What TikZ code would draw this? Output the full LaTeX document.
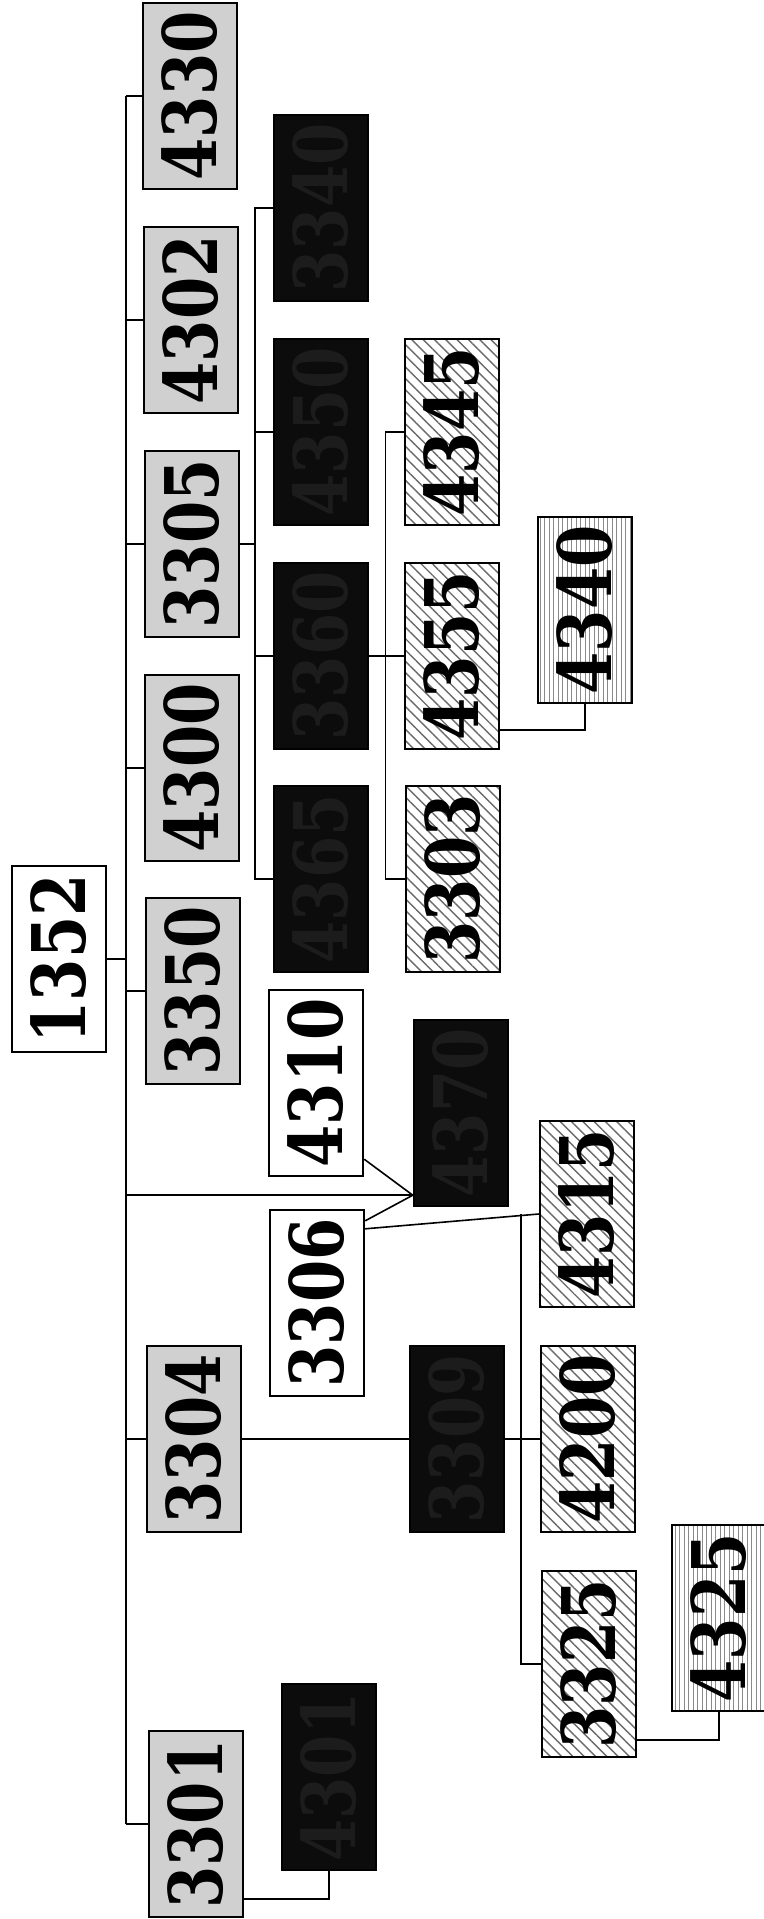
\documentclass[tikz,border=0pt]{standalone}
\usepackage{fontspec}
\setmainfont{DejaVu Serif}
\usetikzlibrary{positioning, calc, patterns.meta}
\definecolor{boxlight}{HTML}{D0D0D0}
\definecolor{boxdark}{HTML}{0C0C0C}
\definecolor{darktext}{HTML}{1C1C1C}
\definecolor{hatchgray}{HTML}{6A6A6A}
\definecolor{stripegray}{HTML}{8A8A8A}
\newcommand{\upnum}[1]{\rotatebox{90}{\scalebox{0.82}[1]{#1}}}
\tikzset{
  numbox/.style={draw=black, line width=2.4pt, minimum width=94pt, minimum height=186pt,
    inner sep=0pt, font=\fontsize{74}{74}\selectfont\bfseries},
  lightbox/.style={numbox, fill=boxlight},
  whitebox/.style={numbox, fill=white},
  darkbox/.style={numbox, fill=boxdark, text=darktext},
  hatchbox/.style={numbox, preaction={fill=white},
    pattern={Lines[angle=-45, distance=8pt, line width=1.4pt]}, pattern color=hatchgray},
  stripebox/.style={numbox, preaction={fill=white},
    pattern={Lines[angle=90, distance=4.5pt, line width=0.8pt]}, pattern color=stripegray},
  link/.style={draw=black, line width=1.6pt}
}

\begin{document}
\begin{tikzpicture}[x=1pt, y=-1pt]
    \fill[white] (0,0) rectangle (763,1919);
    \useasboundingbox (0,0) rectangle (763,1919);

    % root and first level
    \node[whitebox] (n1352) at (59,959) {\upnum{1352}};
    \node[lightbox] (n4330) at (190,96) {\upnum{4330}};
    \node[lightbox] (n4302) at (191,320) {\upnum{4302}};
    \node[lightbox] (n3305) at (192,544) {\upnum{3305}};
    \node[lightbox] (n4300) at (192,768) {\upnum{4300}};
    \node[lightbox] (n3350) at (193,991) {\upnum{3350}};
    \node[lightbox] (n3304) at (194,1439) {\upnum{3304}};
    \node[lightbox] (n3301) at (196,1824) {\upnum{3301}};

    % children of 3305
    \node[darkbox] (n3340) at (321,208) {\upnum{3340}};
    \node[darkbox] (n4350) at (321,432) {\upnum{4350}};
    \node[darkbox] (n3360) at (321,656) {\upnum{3360}};
    \node[darkbox] (n4365) at (321,879) {\upnum{4365}};
    \node[hatchbox] (n4345) at (452,432) {\upnum{4345}};
    \node[hatchbox] (n4355) at (452,656) {\upnum{4355}};
    \node[hatchbox] (n3303) at (453,879) {\upnum{3303}};
    \node[stripebox] (n4340) at (585,610) {\upnum{4340}};

    % middle branch
    \node[whitebox] (n4310) at (316,1083) {\upnum{4310}};
    \node[whitebox] (n3306) at (317,1303) {\upnum{3306}};
    \node[darkbox] (n4370) at (461,1113) {\upnum{4370}};
    \node[hatchbox] (n4315) at (587,1214) {\upnum{4315}};

    % lower branch
    \node[darkbox] (n3309) at (457,1439) {\upnum{3309}};
    \node[hatchbox] (n4200) at (588,1439) {\upnum{4200}};
    \node[hatchbox] (n3325) at (589,1664) {\upnum{3325}};
    \node[stripebox] (n4325) at (719,1618) {\upnum{4325}};
    \node[darkbox] (n4301) at (329,1777) {\upnum{4301}};

    % trunk
    \coordinate (trunktop) at (126,96);
    \draw[link] (trunktop) -- (n3301.west -| trunktop);
    \draw[link] (n1352.east) -- (n1352.east -| trunktop);
    \draw[link] (n4330.west) -- (n4330.west -| trunktop);
    \draw[link] (n4302.west) -- (n4302.west -| trunktop);
    \draw[link] (n3305.west) -- (n3305.west -| trunktop);
    \draw[link] (n4300.west) -- (n4300.west -| trunktop);
    \draw[link] (n3350.west) -- (n3350.west -| trunktop);
    \draw[link] (n3304.west) -- (n3304.west -| trunktop);
    \draw[link] (n3301.west) -- (n3301.west -| trunktop);

    % 3305 group
    \coordinate (busb) at ($(n3340.west)+(-18,0)$);
    \coordinate (busc) at ($(n4345.west)+(-19,0)$);
    \draw[link] (n3340.west) -- (busb) |- (n4365.west);
    \draw[link] (n3305.east) -- (n3305.east -| busb);
    \draw[link] (n4350.west) -- (n4350.west -| busb);
    \draw[link] (n3360.west) -- (n3360.west -| busb);
    \draw[link] (n4345.west) -- (busc) |- (n3303.west);
    \draw[link] (n3360.east) -- (n4355.west);
    \draw[link] ($(n4355.south east)+(0,-20)$) -| (n4340.south);

    % 4370 group
    \coordinate (meet) at ($(n4370.south west)+(0,-12)$);
    \draw[link] (meet -| trunktop) -- (meet);
    \draw[link] ($(n4310.south east)+(0,-18)$) -- (meet);
    \draw[link] ($(n3306.north east)+(0,12)$) -- (meet);
    \coordinate (fork) at ($(n4315.west)+(-18,0)$);
    \draw[link] ($(n3306.north east)+(0,20)$) -- (n4315.west);
    \draw[link] (fork) |- (n3325.west);

    % 3304 group
    \draw[link] (n3304.east) -- (n3309.west);
    \draw[link] (n3309.east) -- (n4200.west);
    \draw[link] ($(n3325.south east)+(0,-18)$) -| (n4325.south);
    \draw[link] ($(n3301.south east)+(0,-19)$) -| (n4301.south);
  \end{tikzpicture}
\end{document}
